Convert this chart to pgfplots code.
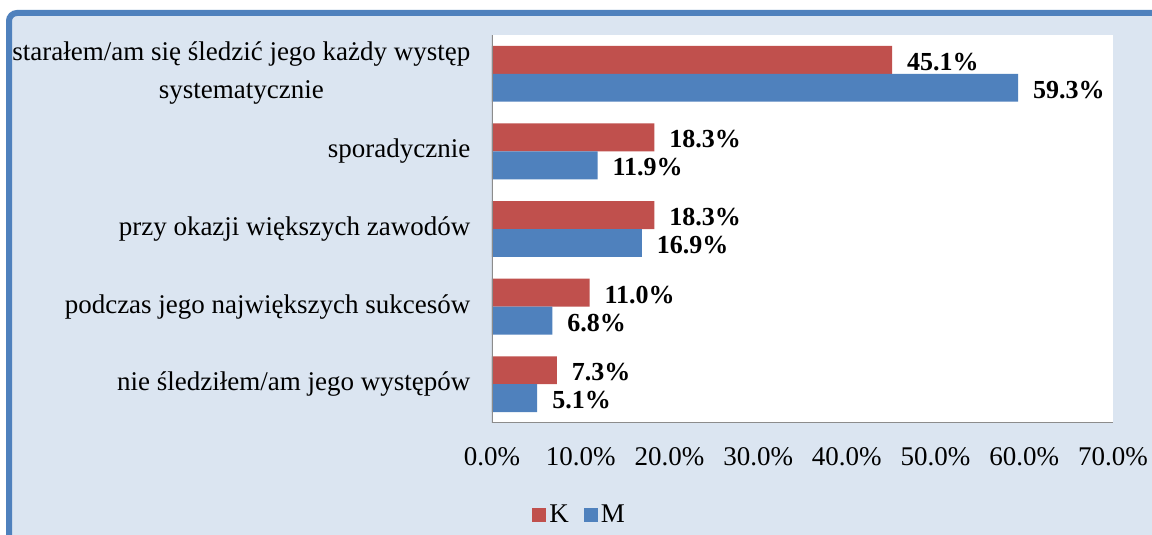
\documentclass[border=0pt]{standalone}
\usepackage{pgfplots}
\pgfplotsset{compat=1.18}
\usepackage{fontspec}
\setmainfont{Liberation Serif}
\definecolor{chartbg}{HTML}{DBE5F1}
\definecolor{frameblue}{HTML}{4F81BD}
\definecolor{barK}{HTML}{C0504D}
\definecolor{barM}{HTML}{4F81BD}
\begin{document}
\begin{tikzpicture}
\useasboundingbox (0,0) rectangle (576pt,267.5pt);
\fill[white] (0,0) rectangle (576pt,267.5pt);
\draw[frameblue, line width=3pt, fill=chartbg, rounded corners=4pt] (4.5pt,-20pt) rectangle (600pt,261pt);
\begin{axis}[
  at={(246pt,56pt)}, anchor=south west,
  width=310.5pt, height=194pt, scale only axis,
  xbar, bar width=0.36,
  xmin=0, xmax=70, ymin=0.5, ymax=5.5,
  axis background/.style={fill=white},
  axis line style={draw=none},
  tick style={draw=none},
  xtick={0,10,...,70},
  xticklabels={0.0\%,10.0\%,20.0\%,30.0\%,40.0\%,50.0\%,60.0\%,70.0\%},
  xticklabel style={font=\fontsize{13.5}{15}\selectfont, yshift=-8.5pt},
  ytick={1,2,3,4,5},
  yticklabels={nie śledziłem/am jego występów,
    podczas jego największych sukcesów,
    przy okazji większych zawodów,
    sporadycznie,
    {\begin{tabular}{@{}c@{}}starałem/am się śledzić jego każdy występ\\[4pt] systematycznie\end{tabular}}},
  yticklabel style={font=\fontsize{13.5}{15}\selectfont, xshift=-3pt},
  point meta=explicit symbolic,
  nodes near coords,
  nodes near coords style={font=\fontsize{13}{15}\selectfont\bfseries, anchor=west, xshift=4pt, yshift=-1pt},
  legend columns=2,
  legend style={at={(0.142,-0.237)}, anchor=center, draw=none, fill=none,
    font=\fontsize{13.5}{15}\selectfont, nodes={inner xsep=1.5pt},
    /tikz/every even column/.append style={column sep=6pt}},
  legend image code/.code={\fill[#1] (0pt,-3.5pt) rectangle (7pt,3.5pt);},
]
\addplot[fill=barK, draw=none, bar shift=0.18] coordinates {
  (45.1,5) [45.1\%]
  (18.3,4) [18.3\%]
  (18.3,3) [18.3\%]
  (11.0,2) [11.0\%]
  (7.3,1) [7.3\%]
};
\addlegendentry{K}
\addplot[fill=barM, draw=none, bar shift=-0.18] coordinates {
  (59.3,5) [59.3\%]
  (11.9,4) [11.9\%]
  (16.9,3) [16.9\%]
  (6.8,2) [6.8\%]
  (5.1,1) [5.1\%]
};
\addlegendentry{M}
\draw[gray!90, line width=0.8pt] (rel axis cs:0,1) -- (rel axis cs:0,0) -- (rel axis cs:1,0);
\end{axis}
\end{tikzpicture}
\end{document}
